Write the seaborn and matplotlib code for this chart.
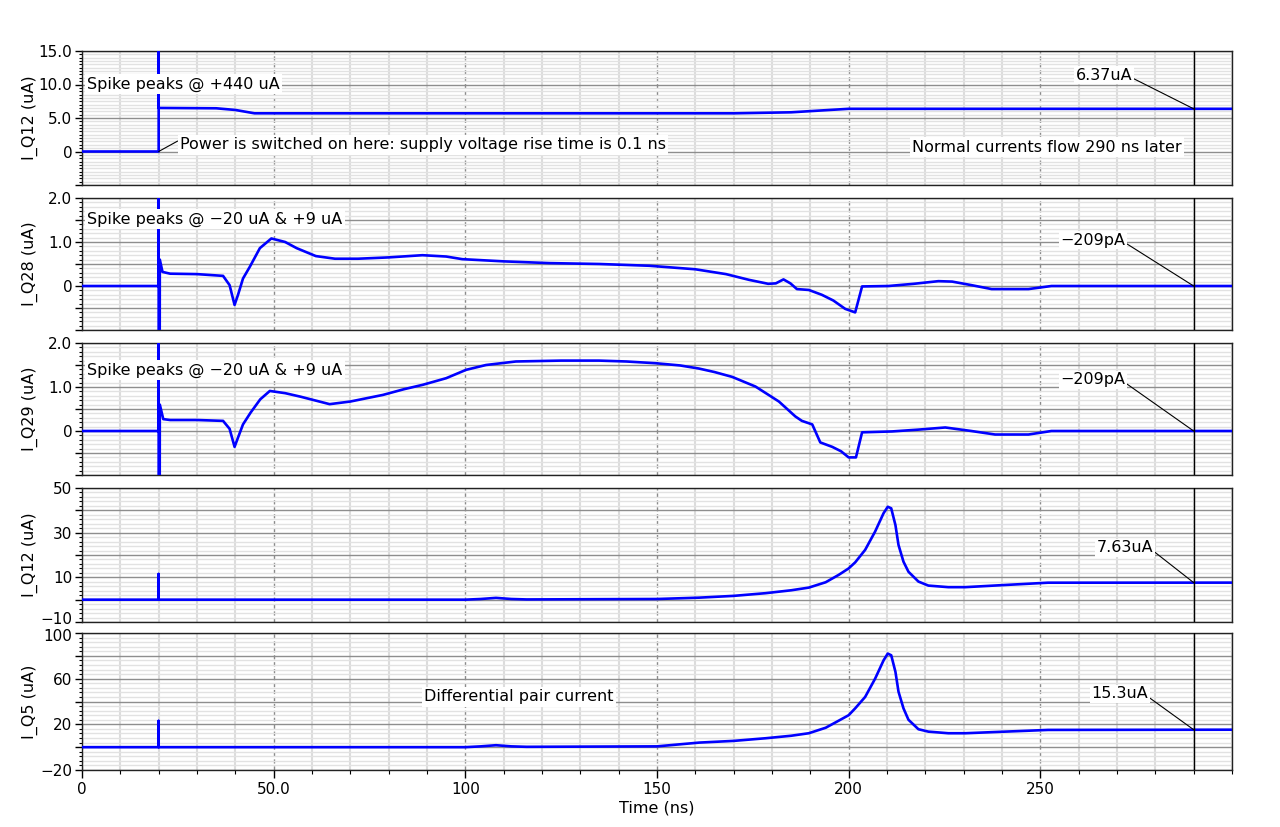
import matplotlib
matplotlib.use("Agg")
import matplotlib.pyplot as plt
import seaborn as sns
import pandas as pd
from matplotlib.ticker import MultipleLocator, FixedLocator, FixedFormatter
from matplotlib.transforms import ScaledTranslation

sns.set_theme(style="ticks")
plt.rcParams['font.family'] = ['DejaVu Sans']
plt.rcParams['text.color'] = 'black'
plt.rcParams['axes.labelcolor'] = 'black'

# ---------------- data (time in ns, current in uA) ----------------
t_q12a = [0, 20, 20, 20, 35, 40, 45, 170, 185, 195, 200, 300]
i_q12a = [0, 0, 440, 6.5, 6.45, 6.2, 5.7, 5.7, 5.85, 6.2, 6.37, 6.37]

t_q28 = [0, 20, 20, 20, 20.3, 21, 23, 30, 36.8, 38.5, 39.8, 40.7, 42, 43.8, 46.4,
         49.4, 53, 56, 61, 66, 72, 80, 88.8, 95, 99.2, 110, 122, 135, 148, 160,
         168, 174, 179, 181, 183, 184.8, 186.5, 189.6, 193, 196, 199.1, 201.7,
         203.5, 210.4, 217, 223.4, 227, 232, 237.3, 246.9, 252.9, 300]
i_q28 = [0, 0, 9, -20, 0.6, 0.32, 0.28, 0.27, 0.23, 0.02, -0.43, -0.2, 0.17, 0.44, 0.86,
         1.08, 1.0, 0.86, 0.68, 0.62, 0.62, 0.65, 0.70, 0.67, 0.61, 0.56, 0.52, 0.5, 0.46, 0.38,
         0.27, 0.14, 0.05, 0.06, 0.15, 0.06, -0.07, -0.09, -0.2, -0.33, -0.52, -0.6,
         -0.01, 0.0, 0.05, 0.11, 0.1, 0.02, -0.07, -0.07, 0.0, 0.0]

t_q29 = [0, 20, 20, 20, 20.3, 21.2, 23, 30, 36.8, 38.5, 39.8, 40.7, 42, 44, 46.5,
         49, 53, 57, 64.6, 70, 78.5, 84, 88.9, 95, 100.2, 105.4, 113.2, 125, 134.9,
         142, 149.7, 156, 160.9, 165, 169.6, 175.7, 181.8, 186.1, 187.8, 190.5,
         192.6, 195.7, 198, 200, 201.9, 203.5, 211.3, 218, 225.2, 232, 238.2,
         246.9, 252.9, 300]
i_q29 = [0, 0, 9, -20, 0.6, 0.27, 0.25, 0.25, 0.23, 0.05, -0.36, -0.15, 0.15, 0.42, 0.72,
         0.91, 0.86, 0.78, 0.61, 0.67, 0.82, 0.95, 1.05, 1.2, 1.39, 1.5, 1.58, 1.6, 1.6,
         1.58, 1.54, 1.49, 1.42, 1.34, 1.23, 1.01, 0.67, 0.33, 0.23, 0.15,
         -0.26, -0.36, -0.46, -0.6, -0.6, -0.03, -0.01, 0.03, 0.08, 0.0, -0.08,
         -0.08, 0.0, 0.0]

t_q12b = [0, 20, 20, 20, 100, 104, 108, 112, 116, 150, 161, 170, 178.3, 185, 189.6, 194,
          197.4, 200, 201.7, 204.3, 206.9, 209.1, 210.2, 211.1, 212.2, 213, 214.3,
          215.6, 218.2, 220.8, 226, 230.4, 240, 252, 300]
i_q12b = [0, 0, 11.5, 0, 0, 0.3, 0.8, 0.3, 0.1, 0.3, 0.9, 1.7, 2.9, 4.2, 5.4, 7.8,
          11.1, 14.0, 16.7, 22.3, 30.5, 38.7, 41.6, 40.9, 33.4, 24.5, 17,
          12.5, 8.1, 6.3, 5.6, 5.6, 6.5, 7.6, 7.63]

t_q5 = [0, 20, 20, 20, 100, 104, 108, 112, 116, 150, 161, 170, 178.3, 185, 189.6, 194,
        197.4, 200, 201.7, 204.3, 206.9, 209.1, 210.2, 211.1, 212.2, 213, 214.3,
        215.6, 218.2, 220.8, 226, 230.4, 240, 252, 300]
i_q5 = [0, 0, 23, 0, 0, 0.7, 1.7, 0.7, 0.3, 0.7, 4, 5.5, 7.8, 10, 12.2, 17,
        23.2, 28, 34, 44, 60, 76, 82, 80.5, 66, 48.6, 34,
        24, 15.7, 13.6, 12.2, 12.2, 13.5, 15.1, 15.3]

cursor_t = 290
cursor_labels = ["6.37uA", "\u2212209pA", "\u2212209pA", "7.63uA", "15.3uA"]
cursor_vals = [6.37, -0.000209, -0.000209, 7.63, 15.3]

ylabels = ["I_Q12 (uA)", "I_Q28 (uA)", "I_Q29 (uA)", "I_Q12 (uA)", "I_Q5 (uA)"]
yticks = [[-5, 0, 5, 10, 15],
          [-1, -0.5, 0, 0.5, 1, 1.5, 2],
          [-1, -0.5, 0, 0.5, 1, 1.5, 2],
          [-10, 0, 10, 20, 30, 40, 50],
          [-20, 0, 20, 40, 60, 80, 100]]
yticklabels = [["", "0", "5.0", "10.0", "15.0"],
               ["", "", "0", "", "1.0", "", "2.0"],
               ["", "", "0", "", "1.0", "", "2.0"],
               ["\u221210", "", "10", "", "30", "", "50"],
               ["\u221220", "", "20", "", "60", "", "100"]]
yminor = [0.5, 0.1, 0.1, 2, 4]
xticks = [0, 50, 100, 150, 200, 250]
xticklabels = ["0", "50.0", "100", "150", "200", "250"]

series = [(t_q12a, i_q12a), (t_q28, i_q28), (t_q29, i_q29), (t_q12b, i_q12b), (t_q5, i_q5)]

# ---------------- layout ----------------
W, H = 1280, 827
L, R = 82, 1232
boxes = [(51, 185), (198, 330), (343, 475), (488, 622), (633, 770)]
label_pos = [(1104, 75), (1093, 240), (1093, 380), (1125, 548), (1120, 694)]
BLUE = "#0000ff"
FS = 11.5
TFS = 11

def fp(x, y):
    return (x / W, 1 - y / H)

fig = plt.figure(figsize=(12.8, 8.27), dpi=100)
axes = []
for k, (top, bot) in enumerate(boxes):
    ax = fig.add_axes([L / W, 1 - bot / H, (R - L) / W, (bot - top) / H])
    axes.append(ax)
    t, v = series[k]
    df = pd.DataFrame({"t": t, "i": v})
    sns.lineplot(data=df, x="t", y="i", ax=ax, color=BLUE, lw=1.9,
                 estimator=None, sort=False, zorder=3)
    ax.set_xlim(0, 300)
    ax.set_ylim(yticks[k][0], yticks[k][-1])
    ax.yaxis.set_major_locator(FixedLocator(yticks[k]))
    ax.yaxis.set_major_formatter(FixedFormatter(yticklabels[k]))
    ax.yaxis.set_minor_locator(MultipleLocator(yminor[k]))
    ax.xaxis.set_major_locator(FixedLocator(xticks))
    ax.xaxis.set_minor_locator(MultipleLocator(10))
    ax.set_axisbelow(True)
    ax.grid(which="minor", axis="y", color="#e2e2e2", lw=1.0)
    ax.grid(which="major", axis="y", color="#8e8e8e", lw=1.0)
    ax.grid(which="minor", axis="x", color="#dcdcdc", lw=1.5)
    ax.grid(which="major", axis="x", color="#8a8a8a", lw=1.0, ls=(0, (3, 2)))
    ax.axvline(cursor_t, color="black", lw=1.0, zorder=4)
    for s in ax.spines.values():
        s.set_color("#222222")
        s.set_linewidth(1.0)
    ax.tick_params(axis="y", which="major", left=True, length=5, width=1,
                   color="black", labelsize=TFS, pad=2, labelcolor="black")
    ax.tick_params(axis="y", which="minor", left=True, length=2.5, width=0.8, color="black")
    ax.set_ylabel(ylabels[k], fontsize=FS, color="black")
    ax.yaxis.set_label_coords(-0.038, 0.5)
    if k < 4:
        ax.tick_params(axis="x", which="both", bottom=False, labelbottom=False)
        ax.set_xlabel("")
    else:
        ax.xaxis.set_major_formatter(FixedFormatter(xticklabels))
        ax.tick_params(axis="x", which="major", bottom=True, length=6, width=1,
                       color="black", labelsize=TFS, labelcolor="black", pad=3)
        ax.tick_params(axis="x", which="minor", bottom=True, length=3, width=0.8, color="black")
        ax.set_xlabel("Time (ns)", fontsize=FS, color="black", labelpad=2)

    # cursor value annotation
    ax.annotate(cursor_labels[k], xy=(cursor_t, cursor_vals[k]), xycoords="data",
                xytext=fp(*label_pos[k]), textcoords="figure fraction",
                ha="center", va="center", fontsize=FS, color="black",
                bbox=dict(boxstyle="square,pad=0.1", fc="white", ec="none"),
                arrowprops=dict(arrowstyle="-", color="black", lw=0.8,
                                shrinkA=0, shrinkB=0, relpos=(1.0, 0.3)),
                zorder=6)

box = dict(boxstyle="square,pad=0.15", fc="white", ec="none")
ax1 = axes[0]
fig.text(*fp(87, 84), "Spike peaks @ +440 uA", fontsize=FS, color="black",
         ha="left", va="center", bbox=box, zorder=6)
ax1.annotate("Power is switched on here: supply voltage rise time is 0.1 ns",
             xy=(t_q12a[1], i_q12a[1]), xycoords="data",
             xytext=fp(180, 145), textcoords="figure fraction", color="black",
             ha="left", va="center", fontsize=FS, bbox=box,
             arrowprops=dict(arrowstyle="-", color="black", lw=0.8,
                             shrinkA=0, shrinkB=0, relpos=(0.0, 0.85)), zorder=6)
fig.text(*fp(912, 147), "Normal currents flow 290 ns later", fontsize=FS, color="black",
         ha="left", va="center", bbox=box, zorder=6)
fig.text(*fp(87, 219), "Spike peaks @ \u221220 uA & +9 uA", fontsize=FS, color="black",
         ha="left", va="center", bbox=box, zorder=6)
fig.text(*fp(87, 370), "Spike peaks @ \u221220 uA & +9 uA", fontsize=FS, color="black",
         ha="left", va="center", bbox=box, zorder=6)
fig.text(*fp(424, 697), "Differential pair current", fontsize=FS, color="black",
         ha="left", va="center", bbox=box, zorder=6)

# nudge the touching bottom/top tick labels of panels 4 and 5 apart slightly
lab_low = axes[3].get_yticklabels()[0]
lab_low.set_transform(lab_low.get_transform() + ScaledTranslation(0, 3 / 72, fig.dpi_scale_trans))
lab_top = axes[4].get_yticklabels()[-1]
lab_top.set_transform(lab_top.get_transform() + ScaledTranslation(0, -1.5 / 72, fig.dpi_scale_trans))

fig.savefig("out.png", dpi=100, facecolor="white")
